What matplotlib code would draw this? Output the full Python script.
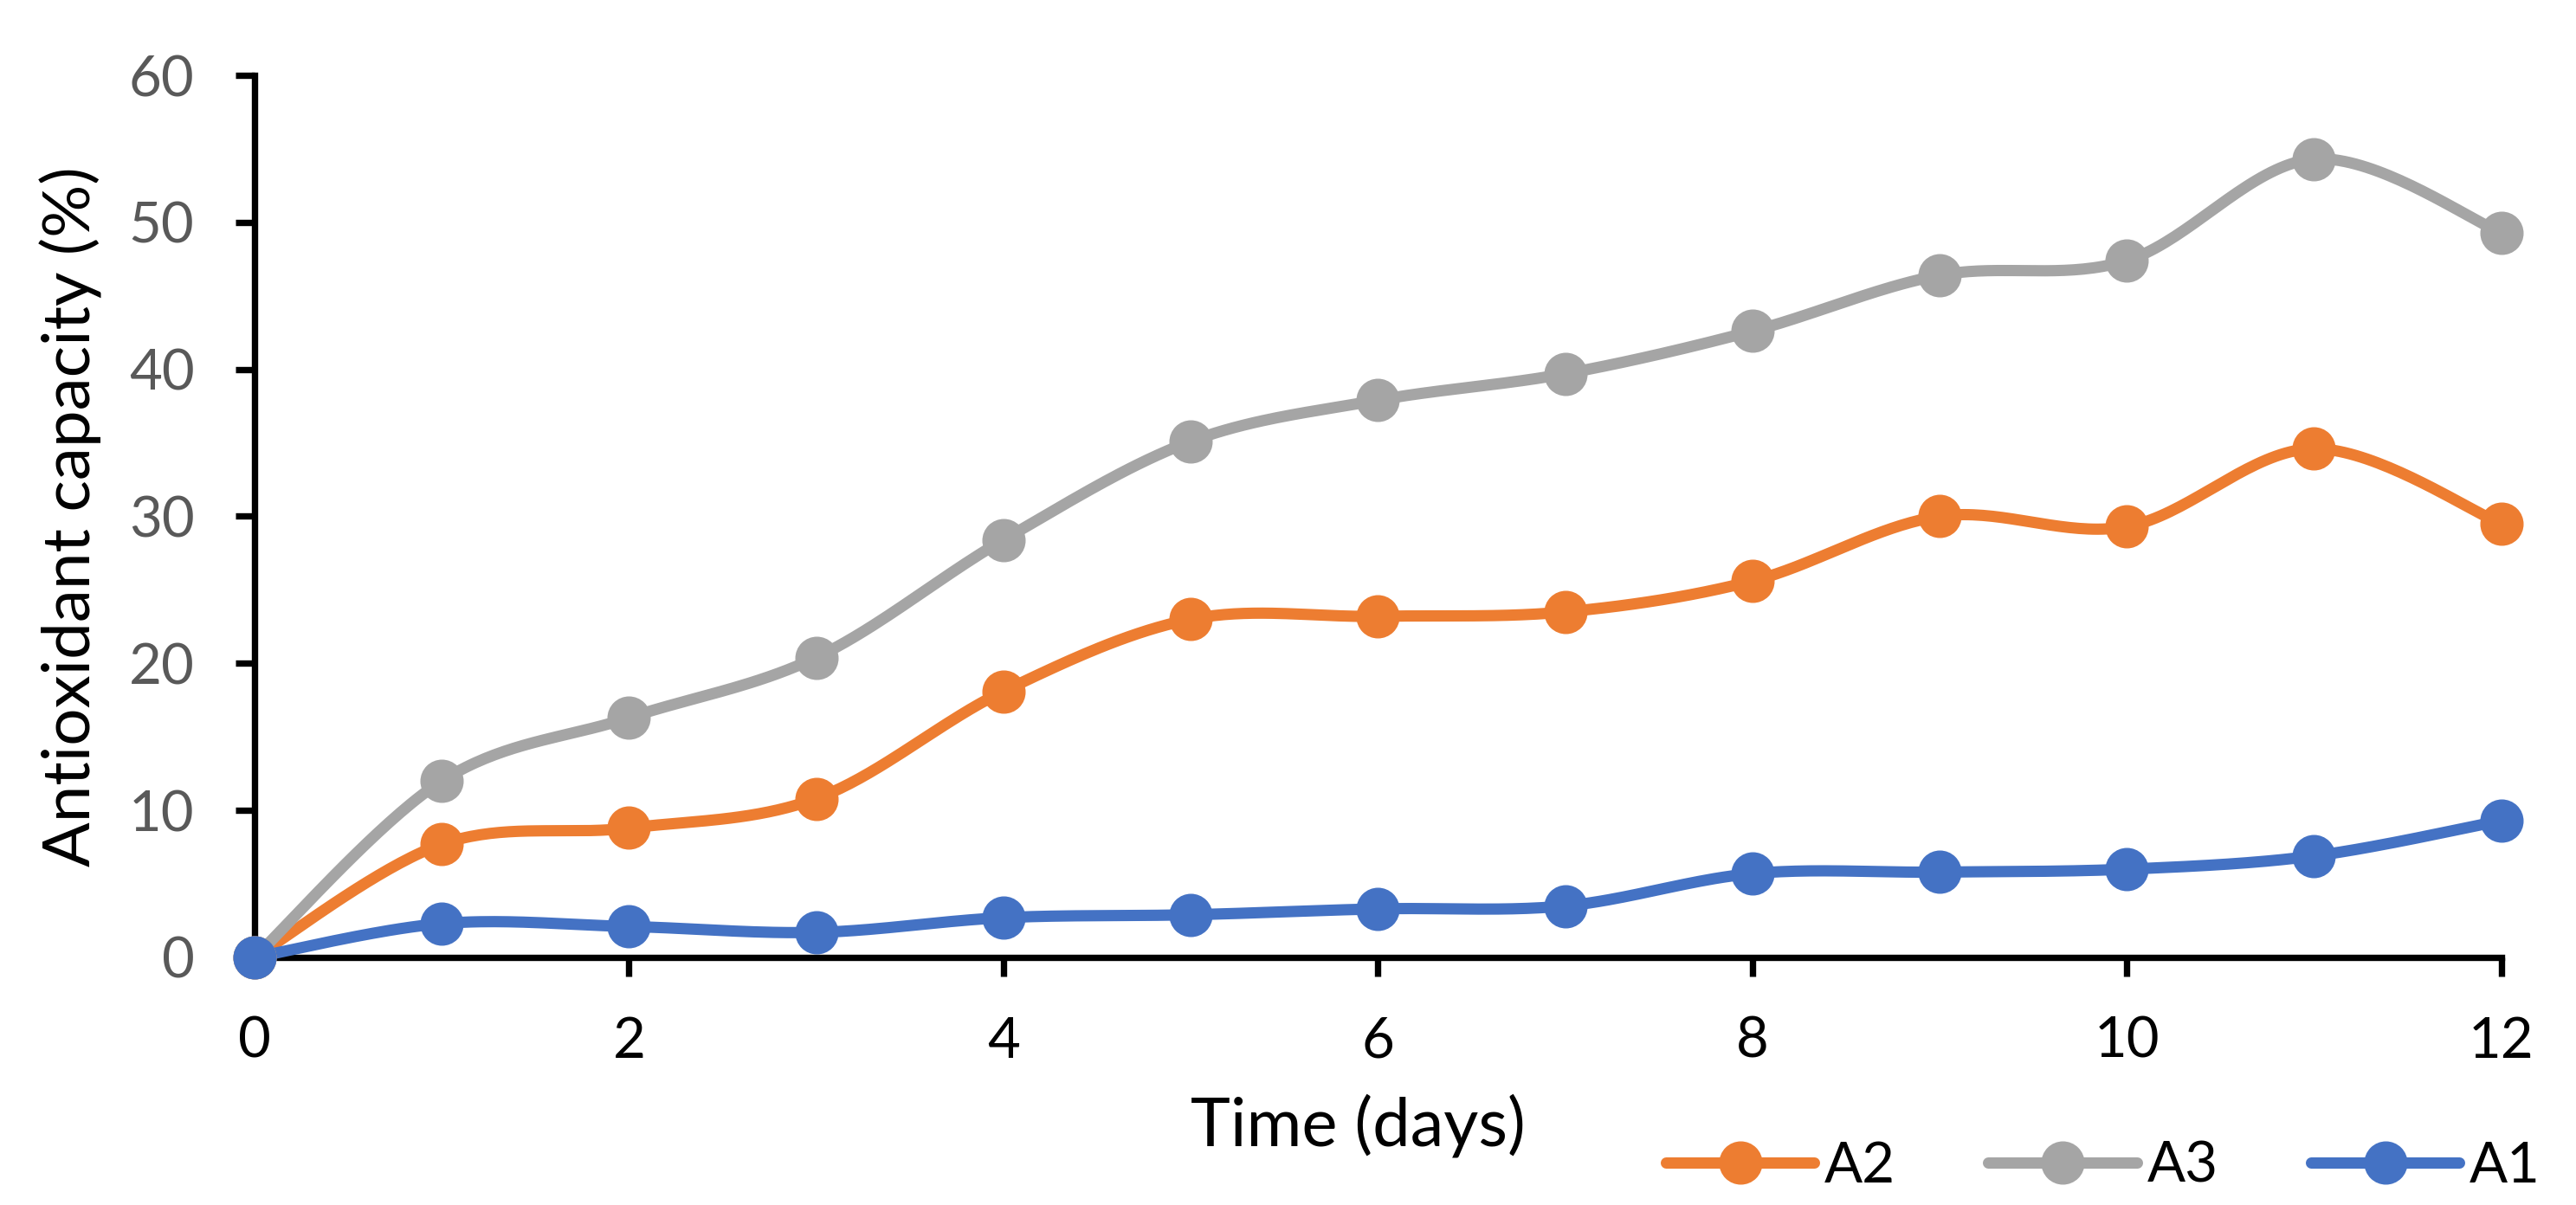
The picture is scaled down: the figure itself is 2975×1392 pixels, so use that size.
import numpy as np
import matplotlib
matplotlib.use("Agg")
import matplotlib.pyplot as plt
from matplotlib.lines import Line2D

days = [0, 1, 2, 3, 4, 5, 6, 7, 8, 9, 10, 11, 12]
a2 = [0, 7.7, 8.8, 10.8, 18.1, 23.0, 23.2, 23.5, 25.6, 30.0, 29.3, 34.6, 29.5]
a3 = [0, 12.0, 16.3, 20.4, 28.4, 35.1, 37.9, 39.7, 42.6, 46.4, 47.4, 54.3, 49.3]
a1 = [0, 2.3, 2.1, 1.7, 2.7, 2.9, 3.3, 3.5, 5.7, 5.8, 6.0, 6.9, 9.3]
series = [("A2", a2, "#ED7D31"), ("A3", a3, "#A5A5A5"), ("A1", a1, "#4472C4")]
xticks = [0, 2, 4, 6, 8, 10, 12]
yticks = [0, 10, 20, 30, 40, 50, 60]

FONT = ["Lato", "DejaVu Sans"]
plt.rcParams["font.family"] = FONT


def smooth(x, y, n=40):
    # Excel-like smoothed line (Catmull-Rom style Bezier segments)
    x = np.asarray(x, float)
    y = np.asarray(y, float)
    px = np.concatenate([[x[0]], x, [x[-1]]])
    py = np.concatenate([[y[0]], y, [y[-1]]])
    xs, ys = [], []
    t = np.linspace(0, 1, n)
    for i in range(len(x) - 1):
        p0 = np.array([px[i], py[i]])
        p1 = np.array([px[i + 1], py[i + 1]])
        p2 = np.array([px[i + 2], py[i + 2]])
        p3 = np.array([px[i + 3], py[i + 3]])
        c1 = p1 + (p2 - p0) / 6.0
        c2 = p2 - (p3 - p1) / 6.0
        b = ((1 - t) ** 3)[:, None] * p1 + (3 * (1 - t) ** 2 * t)[:, None] * c1 \
            + (3 * (1 - t) * t ** 2)[:, None] * c2 + (t ** 3)[:, None] * p2
        xs.append(b[:, 0])
        ys.append(b[:, 1])
    return np.concatenate(xs), np.concatenate(ys)


fig = plt.figure(figsize=(29.75, 13.92), dpi=100)
ax = fig.add_axes([0.0988, 0.2055, 0.8722, 0.732])

lw = 9.4
ms = 35
handles = []
for name, vals, col in series:
    sx, sy = smooth(days, vals)
    ax.plot(sx, sy, color=col, lw=lw, solid_capstyle="round", clip_on=False, zorder=2)
    ax.plot(days, vals, "o", color=col, ms=ms, clip_on=False, zorder=3)
    handles.append(Line2D([0], [0], color=col, lw=lw, marker="o", ms=ms,
                          solid_capstyle="round", label=name))

ax.set_xlim(0, 12)
ax.set_ylim(0, 60)
ax.set_xticks(xticks)
ax.set_yticks(yticks)
for s in ["top", "right"]:
    ax.spines[s].set_visible(False)
for s in ["left", "bottom"]:
    ax.spines[s].set_linewidth(5.3)
    ax.spines[s].set_color("black")
    ax.spines[s].set_zorder(1)
ax.tick_params(axis="both", direction="out", length=16, width=5.3, color="black")
ax.tick_params(axis="y", labelsize=47, labelcolor="#595959", pad=34)
ax.tick_params(axis="x", labelsize=47, labelcolor="black", pad=33)

ax.set_ylabel("Antioxidant capacity (%)", fontsize=55, color="black", labelpad=22)
ax.set_xlabel("Time (days)", fontsize=56, color="black", labelpad=22)
ax.xaxis.label.set_x(0.491)

fig.legend(handles=handles, loc="center right", bbox_to_anchor=(1.006, 0.0323),
           ncol=3, frameon=False, fontsize=47, handlelength=2.63,
           handletextpad=0.18, columnspacing=1.64, borderpad=0.4)

fig.savefig("out.png", dpi=100, facecolor="white")
